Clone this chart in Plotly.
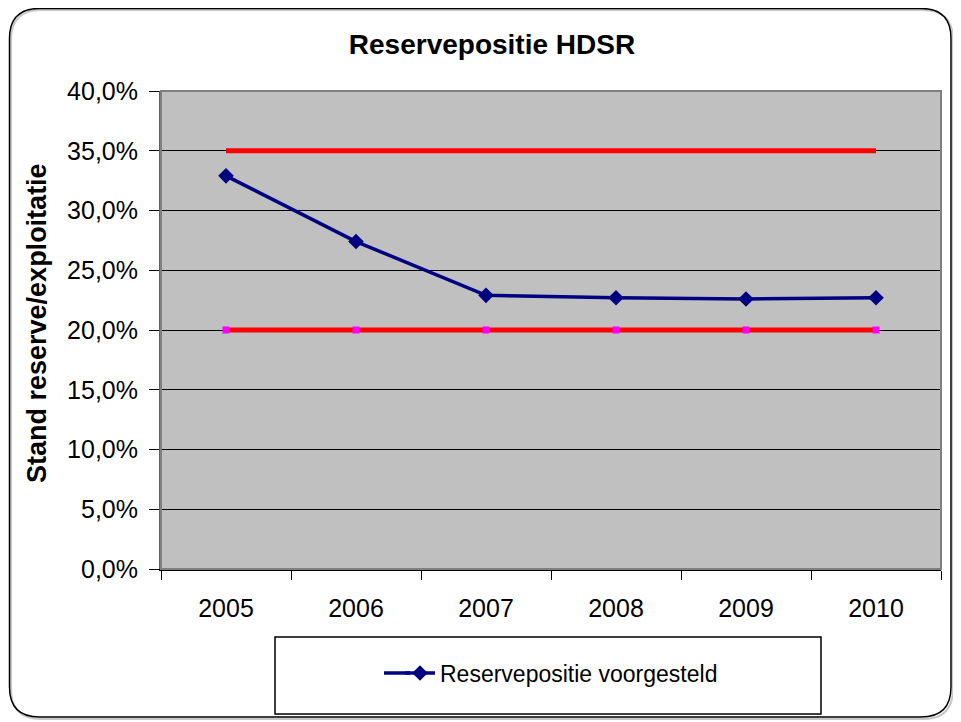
import plotly.graph_objects as go

years = ["2005", "2006", "2007", "2008", "2009", "2010"]
reserve = [0.329, 0.274, 0.229, 0.227, 0.226, 0.227]
upper = [0.35, 0.35, 0.35, 0.35, 0.35, 0.35]
lower = [0.20, 0.20, 0.20, 0.20, 0.20, 0.20]

OFF = 8  # page body margin
W, H = 961 - OFF, 722 - OFF
# plot area in page pixels
L, R, T, B = 161, 941, 91, 569

def px(x):
    return (x - L) / (R - L)

def py(y):
    return (B - y) / (B - T)

FONT = "Liberation Sans, Arial, sans-serif"
NAVY = "#000080"

fig = go.Figure()
fig.add_trace(go.Scatter(x=years, y=upper, mode="lines", line=dict(color="#FF0000", width=5),
                         showlegend=False, hoverinfo="skip"))
fig.add_trace(go.Scatter(x=years, y=lower, mode="lines+markers", line=dict(color="#FF0000", width=5),
                         marker=dict(symbol="square", size=7, color="#FF00FF", line=dict(width=0)),
                         showlegend=False, hoverinfo="skip"))
fig.add_trace(go.Scatter(x=years, y=reserve, mode="lines+markers", name="Reservepositie voorgesteld",
                         line=dict(color=NAVY, width=3.5),
                         marker=dict(symbol="diamond", size=12, color=NAVY)))

def rounded(x0, y0, x1, y1, r):
    return (f"M {px(x0+r)},{py(y0)} L {px(x1-r)},{py(y0)} Q {px(x1)},{py(y0)} {px(x1)},{py(y0+r)} "
            f"L {px(x1)},{py(y1-r)} Q {px(x1)},{py(y1)} {px(x1-r)},{py(y1)} "
            f"L {px(x0+r)},{py(y1)} Q {px(x0)},{py(y1)} {px(x0)},{py(y1-r)} "
            f"L {px(x0)},{py(y0+r)} Q {px(x0)},{py(y0)} {px(x0+r)},{py(y0)} Z")

shapes = [
    dict(type="path", xref="paper", yref="paper", path=rounded(11, 10, 953, 719, 30),
         line=dict(color="#c8c8c8", width=2), layer="below"),
    dict(type="path", xref="paper", yref="paper", path=rounded(9.5, 8.5, 951, 717, 30),
         line=dict(color="#000000", width=1.5), layer="below"),
    dict(type="rect", xref="paper", yref="paper", x0=0, x1=1, y0=0, y1=1,
         line=dict(color="#808080", width=2), layer="above"),
    dict(type="rect", xref="paper", yref="paper", x0=px(275), x1=px(821), y0=py(637), y1=py(714),
         line=dict(color="#000000", width=1.5)),
    # extend legend sample line to the left, as in the original legend key
    dict(type="line", xref="paper", yref="paper", x0=px(384), x1=px(410), y0=py(673), y1=py(673),
         line=dict(color=NAVY, width=3.5)),
]

fig.update_layout(
    width=W, height=H,
    margin=dict(l=L - OFF, r=961 - R, t=T - OFF, b=722 - B, pad=0),
    paper_bgcolor="white",
    plot_bgcolor="#C0C0C0",
    separators=",.",
    font=dict(family=FONT, size=25, color="black"),
    title=dict(text="<b>Reservepositie HDSR</b>", x=px(492), xref="paper", xanchor="center",
               y=1 - (44 - OFF) / H, yanchor="middle", font=dict(size=28)),
    shapes=shapes,
    showlegend=True,
    legend=dict(x=px(400), y=py(673), xanchor="left", yanchor="middle", bgcolor="rgba(0,0,0,0)",
                font=dict(size=23), itemwidth=30),
    annotations=[dict(text="<b>Stand reserve/exploitatie</b>", textangle=-90, xref="paper", yref="paper",
                      x=px(37), y=py(323), xanchor="center", yanchor="middle", showarrow=False,
                      font=dict(size=27))],
    xaxis=dict(range=[-0.5, 5.5], showgrid=False, showline=True, linecolor="black", linewidth=1.5,
               ticks="outside", tickson="boundaries", ticklen=9, tickcolor="black",
               ticklabelstandoff=16, tickfont=dict(size=25)),
    yaxis=dict(range=[0, 0.4], dtick=0.05, tickformat=".1%", showgrid=True, gridcolor="black",
               gridwidth=1, showline=True, linecolor="#606060", linewidth=2, ticks="outside",
               ticklen=10, tickcolor="black", zeroline=False, tickfont=dict(size=25),
               ticklabelstandoff=6),
)

fig.write_html("out.html")
